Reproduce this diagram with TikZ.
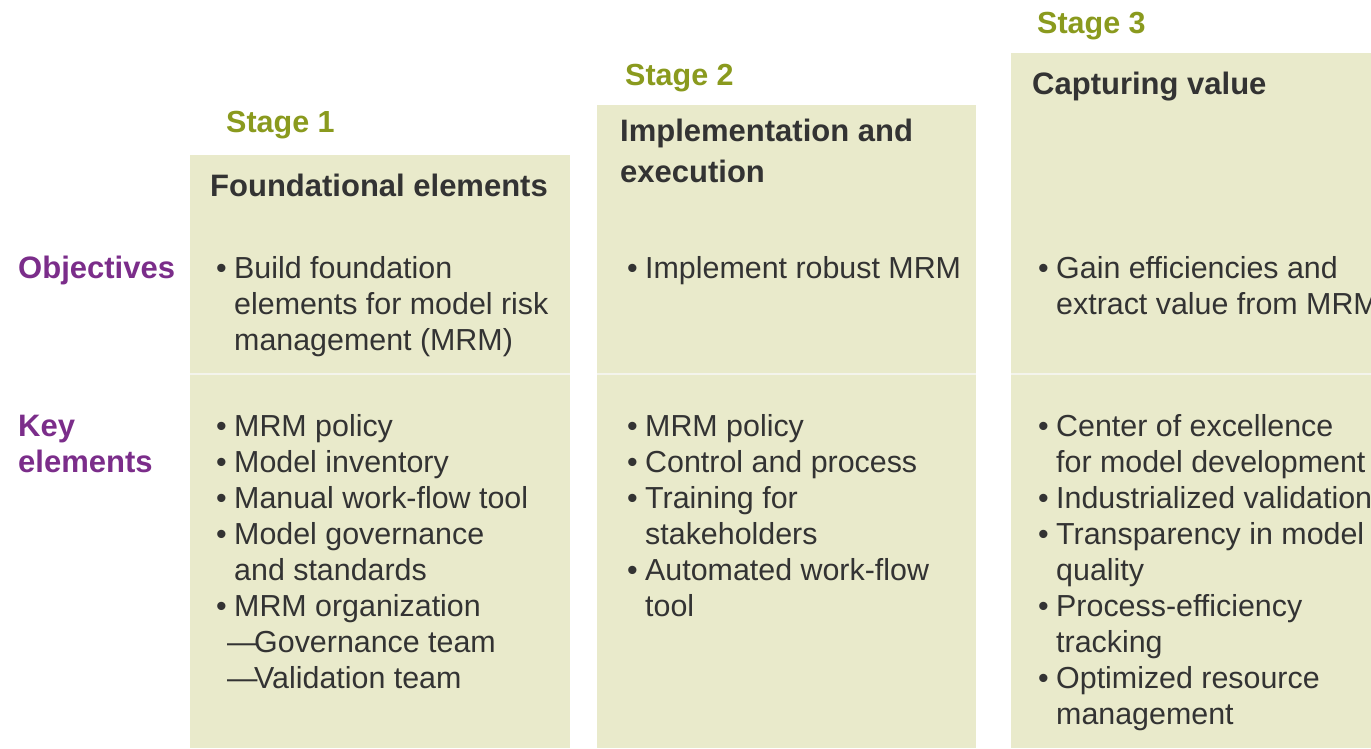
\documentclass[tikz,border=0pt]{standalone}
\usepackage{fontspec}
\setmainfont{Liberation Sans}
\definecolor{boxfill}{HTML}{E9EACB}
\definecolor{divline}{HTML}{F4F4EC}
\definecolor{stagegreen}{HTML}{8A9A1E}
\definecolor{labpurple}{HTML}{7B2D8A}
\definecolor{txt}{HTML}{333333}
\newcommand{\bl}{\makebox[18pt][l]{\textbullet}}
\newcommand{\ind}{\hspace*{18pt}}
\newcommand{\dsh}{\hspace*{-7pt}\makebox[27pt][l]{—}}
\begin{document}
\begin{tikzpicture}[x=1pt,y=-1pt,
  stagebox/.style={fill=boxfill,draw=none},
  stagelab/.style={anchor=base west,inner sep=0pt,font=\fontsize{30.5}{36}\selectfont\bfseries,text=stagegreen},
  rowlab/.style={anchor=base west,inner sep=0pt,font=\fontsize{31}{36}\selectfont\bfseries,text=labpurple},
  headtxt/.style={anchor=base west,inner sep=0pt,font=\fontsize{31}{41}\selectfont\bfseries,text=txt},
  listtxt/.style={anchor=base west,inner sep=0pt,font=\fontsize{30.4}{36}\selectfont,text=txt},
  divider/.style={draw=divline,line width=2.5pt}]
\useasboundingbox (0,0) rectangle (1371,748);
\clip (0,0) rectangle (1371,748);
% boxes
\fill[stagebox] (190,155) rectangle (570,748);
\fill[stagebox] (597,105) rectangle (976,748);
\fill[stagebox] (1011,53) rectangle (1400,748);
\coordinate (d1a) at (190,374); \coordinate (d1b) at (570,374);
\coordinate (d2a) at (597,374); \coordinate (d2b) at (976,374);
\coordinate (d3a) at (1011,374); \coordinate (d3b) at (1400,374);
\draw[divider] (d1a) -- (d1b);
\draw[divider] (d2a) -- (d2b);
\draw[divider] (d3a) -- (d3b);
% stage labels
\node[stagelab] (s1) at (226,132) {Stage 1};
\node[stagelab] (s2) at (625,85) {Stage 2};
\node[stagelab] (s3) at (1037,33) {Stage 3};
% headers
\node[headtxt] (h1) at (210,196) {Foundational elements};
\node[headtxt] (h2a) at (620,141) {Implementation and};
\node[headtxt] (h2b) at (620,182) {execution};
\node[headtxt] (h3) at (1032,94) {Capturing value};
% row labels
\node[rowlab] (objl) at (18,278) {Objectives};
\node[rowlab] (keyl1) at (18,436) {Key};
\node[rowlab] (keyl2) at (18,472) {elements};
% objectives
\foreach \t [count=\i] in {\bl Build foundation,\ind elements for model risk,\ind management (MRM)}
  \node[listtxt] (o1-\i) at (216,{278+36*(\i-1)}) {\t};
\node[listtxt] (o2-1) at (627,278) {\bl Implement robust MRM};
\foreach \t [count=\i] in {\bl Gain efficiencies and,\ind extract value from MRM}
  \node[listtxt] (o3-\i) at (1038,{278+36*(\i-1)}) {\t};
% key elements
\foreach \t [count=\i] in {\bl MRM policy,\bl Model inventory,\bl Manual work-flow tool,\bl Model governance,\ind and standards,\bl MRM organization,\ind\dsh Governance team,\ind\dsh Validation team}
  \node[listtxt] (k1-\i) at (216,{436+36*(\i-1)}) {\t};
\foreach \t [count=\i] in {\bl MRM policy,\bl Control and process,\bl Training for,\ind stakeholders,\bl Automated work-flow,\ind tool}
  \node[listtxt] (k2-\i) at (627,{436+36*(\i-1)}) {\t};
\foreach \t [count=\i] in {\bl Center of excellence,\ind for model development,\bl Industrialized validation,\bl Transparency in model,\ind quality,\bl Process-efficiency,\ind tracking,\bl Optimized resource,\ind management}
  \node[listtxt] (k3-\i) at (1038,{436+36*(\i-1)}) {\t};
\end{tikzpicture}
\end{document}
